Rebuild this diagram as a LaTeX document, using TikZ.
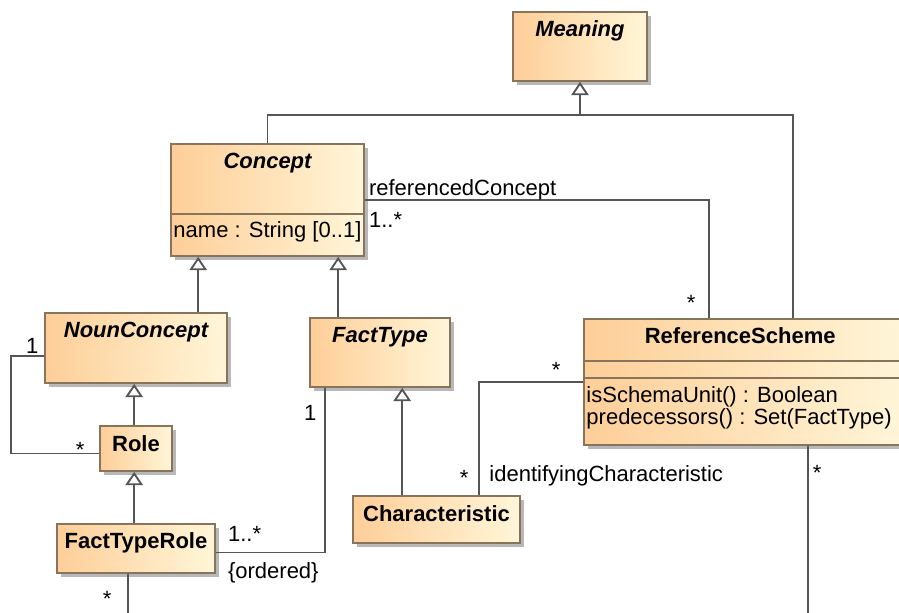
\documentclass[tikz,border=0pt]{standalone}
\usepackage{fontspec}
\setmainfont{Liberation Sans}
\usetikzlibrary{arrows.meta, positioning, fit, calc, shadows}

\definecolor{clsdark}{RGB}{254,206,152}
\definecolor{clslight}{RGB}{255,246,216}
\definecolor{clsedge}{RGB}{135,116,90}
\definecolor{linegray}{RGB}{85,85,85}

\begin{document}
\begin{tikzpicture}[
  x=0.75pt, y=-0.75pt,
  font=\fontsize{16.5}{20}\selectfont,
  %--- class boxes ---
  umlclass/.style={
    draw=clsedge, line width=1.2pt,
    left color=clsdark, right color=clslight,
    rectangle, inner sep=0pt,
    drop shadow={shadow xshift=3pt, shadow yshift=-3pt, fill=black, opacity=0.28}
  },
  clsname/.style={font=\fontsize{16.5}{20}\selectfont\bfseries, inner sep=0pt, anchor=base},
  absname/.style={clsname, font=\fontsize{16.5}{20}\selectfont\bfseries\itshape},
  member/.style={inner sep=0pt, anchor=base west},
  divider/.style={draw=clsedge, line width=1.2pt},
  %--- connectors ---
  assoc/.style={draw=linegray, line width=1.4pt},
  gen/.style={assoc, -{Triangle[open, fill=white, length=10pt, width=13pt]}},
  mult/.style={inner sep=0pt, anchor=base},
  endname/.style={inner sep=0pt, anchor=base west}
]
\useasboundingbox (0,0) rectangle (899,612);

%------------------------------------------------------------------
%  Classes
%------------------------------------------------------------------
\node[umlclass, fit={(513,12) (647,81)}]    (meaning)   {};
\node[umlclass, fit={(171,144) (364,256)}]  (concept)   {};
\node[umlclass, fit={(45,313) (227,383)}]   (nouncon)   {};
\node[umlclass, fit={(310,318) (450,387)}]  (facttype)  {};
\node[umlclass, fit={(100,426) (172,471)}]  (role)      {};
\node[umlclass, fit={(57,524) (215,573)}]   (ftrole)    {};
\node[umlclass, fit={(353,496) (520,543)}]  (charac)    {};
\node[umlclass, fit={(584,319) (906,445)}]  (refscheme) {};

\node[absname] (meaning-name)   at ($(meaning.north)+(0,25)$)   {Meaning};
\node[absname] (concept-name)   at ($(concept.north)+(0,25)$)   {Concept};
\node[absname] (nouncon-name)   at ($(nouncon.north)+(0,25)$)   {NounConcept};
\node[absname] (facttype-name)  at ($(facttype.north)+(0,25)$)  {FactType};
\node[clsname] (role-name)      at ($(role.north)+(0,26)$)      {Role};
\node[clsname] (ftrole-name)    at ($(ftrole.north)+(0,25)$)    {FactTypeRole};
\node[clsname] (charac-name)    at ($(charac.north)+(0,26)$)    {Characteristic};
\node[clsname] (refscheme-name) at ($(refscheme.north west)+(157,25)$) {ReferenceScheme};

% compartments
\draw[divider] ($(concept.south west)+(0,-43)$) -- ($(concept.south east)+(0,-43)$);
\node[member] (concept-attr) at ($(concept.south west)+(3,-19)$) {name : String [0..1]};

\draw[divider] ($(refscheme.north west)+(0,43)$) -- ($(refscheme.north east)+(0,43)$);
\draw[divider] ($(refscheme.north west)+(0,60)$) -- ($(refscheme.north east)+(0,60)$);
\node[member] (refscheme-op1) at ($(refscheme.north west)+(3,84)$)  {isSchemaUnit() : Boolean};
\node[member] (refscheme-op2) at ($(refscheme.north west)+(3,106)$) {predecessors() : Set(FactType)};

%------------------------------------------------------------------
%  Generalizations
%------------------------------------------------------------------
\coordinate (genjoin) at ($(meaning.south)+(0,33)$);
\draw[gen]   (concept.north) |- (genjoin) -- (meaning.south);
\draw[assoc] ($(refscheme.north west)+(210,0)$) |- (genjoin);

\draw[gen] ($(nouncon.north west)+(154,0)$) -- ($(concept.south west)+(28,0)$);
\draw[gen] ($(facttype.north west)+(29,0)$) -- ($(concept.south west)+(168,0)$);
\draw[gen] ($(role.north west)+(35,0)$)     -- ($(nouncon.south west)+(90,0)$);
\draw[gen] ($(ftrole.north west)+(78,0)$)   -- ($(role.south west)+(35,0)$);
\draw[gen] ($(charac.north west)+(50,0)$)   -- ($(facttype.south west)+(93,0)$);

%------------------------------------------------------------------
%  Associations
%------------------------------------------------------------------
% referencedConcept
\draw[assoc] (concept.east) -| ($(refscheme.north west)+(126,0)$);
\node[endname] (refcon-role) at ($(concept.east)+(4,-5)$)  {referencedConcept};
\node[endname] (refcon-m1)   at ($(concept.east)+(4,27)$)  {1..*};
\node[mult]    (refcon-m2)   at ($(refscheme.north west)+(108,-8)$) {*};

% NounConcept -- Role
\draw[assoc] ($(nouncon.west)+(0,8)$) -- ++(-33,0) |- ($(role.west)+(0,5)$);
\node[mult] (noun-m1) at ($(nouncon.west)+(-12,5)$) {1};
\node[mult] (noun-m2) at ($(role.west)+(-19,9)$)    {*};

% FactTypeRole -- FactType
\draw[assoc] ($(ftrole.east)+(0,4)$) -| ($(facttype.south west)+(16,0)$);
\node[endname] (ftr-m1)  at ($(ftrole.east)+(12,-7)$) {1..*};
\node[endname] (ftr-ord) at ($(ftrole.east)+(12,30)$) {\{ordered\}};
\node[mult]    (ftr-m2)  at ($(facttype.south west)+(1,33)$) {1};

% identifyingCharacteristic
\draw[assoc] ($(charac.north west)+(127,0)$) |- (refscheme.west);
\node[mult]    (idc-m1)   at ($(charac.north west)+(112,-10)$) {*};
\node[endname] (idc-role) at ($(charac.north west)+(137,-14)$) {identifyingCharacteristic};
\node[mult]    (idc-m2)   at ($(refscheme.north west)+(-27,59)$) {*};

% ends running off below
\coordinate (ftout) at (128,620);
\coordinate (rsout) at (808,620);
\draw[assoc] (ftrole.south -| ftout) -- (ftout);
\draw[assoc] (refscheme.south -| rsout) -- (rsout);
\node[mult] (ftout-m) at ($(ftrole.south west)+(51,33)$)    {*};
\node[mult] (rsout-m) at ($(refscheme.south west)+(234,35)$) {*};

\end{tikzpicture}
\end{document}
